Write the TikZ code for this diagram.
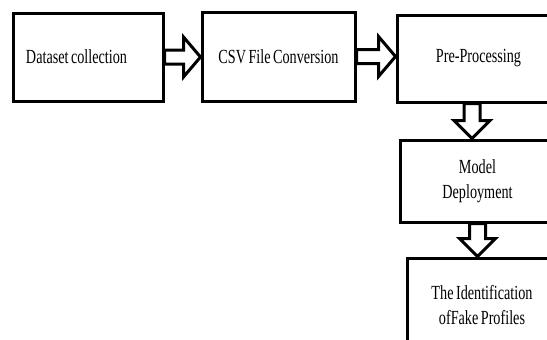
\documentclass[tikz,border=0pt]{standalone}
\usepackage{fontspec}
\setmainfont{Liberation Serif}[FakeStretch=0.71, WordSpace=0.7]
\usetikzlibrary{calc}

% hollow block arrow, east side of #1 to west side of #2
\newcommand{\hblock}[2]{%
  \draw[blk] let \p1 = (#1.east), \p2 = (#2.west) in
    (\x1, \y1 + 7pt) -- (\x2 - 17pt, \y1 + 7pt) -- (\x2 - 17pt, \y1 + 20pt)
    -- (\x2, \y1) -- (\x2 - 17pt, \y1 - 20pt) -- (\x2 - 17pt, \y1 - 7pt)
    -- (\x1, \y1 - 7pt) -- cycle;}
% hollow block arrow, south side of #1 to north side of #2, shifted by #3
\newcommand{\vblock}[3]{%
  \draw[blk] let \p1 = ($(#1.south) + (#3, 0)$), \p2 = (#2.north) in
    (\x1 - 8pt, \y1) -- (\x1 - 8pt, \y2 + 18pt) -- (\x1 - 18pt, \y2 + 18pt)
    -- (\x1, \y2) -- (\x1 + 18pt, \y2 + 18pt) -- (\x1 + 8pt, \y2 + 18pt)
    -- (\x1 + 8pt, \y1) -- cycle;}

\begin{document}
\begin{tikzpicture}[x=1pt, y=1pt,
  stage/.style={draw, line width=3pt, fill=white, align=center, inner sep=0pt,
    font=\fontsize{20}{25}\selectfont},
  blk/.style={draw, line width=3pt, fill=white, line join=miter}]
  \useasboundingbox (0, 0) rectangle (547, -340);
  \clip (0, 0) rectangle (547, -340);

  \node[stage, minimum width=150, minimum height=88, text width=124,
    align=flush left, inner xsep=13] (dataset) at (88, -57) {Dataset collection};
  \node[stage, minimum width=153, minimum height=89] (csv) at (278.5, -56.5)
    {CSV File Conversion};
  \node[stage, minimum width=163, minimum height=87] (prep) at (478.5, -58.5)
    {Pre-Processing};
  \node[stage, minimum width=155, minimum height=82] (model) at (477.5, -181)
    {Model\\Deployment};
  \node[stage, minimum width=150, minimum height=94] (ident) at (482, -305)
    {The Identification\\ofFake Profiles};

  \hblock{dataset}{csv}
  \hblock{csv}{prep}
  \vblock{prep}{model}{-6.5}
  \vblock{model}{ident}{0}

\end{tikzpicture}
\end{document}
